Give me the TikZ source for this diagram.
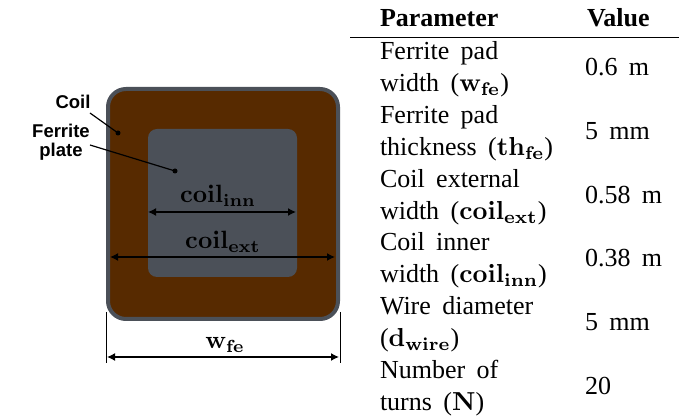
\documentclass[tikz,border=0pt]{standalone}
\usepackage[no-math]{fontspec}
\usepackage{graphicx}
\setmainfont{Liberation Serif}
\newfontfamily\lblfont{Liberation Sans}
\usetikzlibrary{arrows.meta}
\definecolor{rimgray}{HTML}{4B5058}
\definecolor{coilbrown}{HTML}{572A00}
\newcommand{\tabtxt}[1]{\scalebox{2.6}{\spaceskip=4.4pt #1}}
\newcommand{\figmath}[1]{\scalebox{2.5}{$#1$}}
\tikzset{
  x=1pt,y=-1pt,
  txt/.style={anchor=base west,inner sep=0pt,outer sep=0pt},
  lbl/.style={inner sep=0pt,outer sep=0pt,align=center,font=\lblfont\bfseries\fontsize{18.5}{19}\selectfont},
  dim/.style={line width=1.4pt,{Latex[length=8pt,width=8pt]}-{Latex[length=8pt,width=8pt]}},
  lead/.style={line width=1.2pt},
  mathlbl/.style={anchor=base,inner sep=0pt,outer sep=0pt}
}
\begin{document}
\begin{tikzpicture}
\useasboundingbox (0,0) rectangle (691,419);
% table
\coordinate (rulel) at (350,37);
\coordinate (ruler) at (679,37);
\draw[line width=0.9pt] (rulel) -- (ruler);
\node[txt] (hp) at (380,27) {\tabtxt{\textbf{Parameter}}};
\node[txt] (hv) at (587,27) {\tabtxt{\textbf{Value}}};
\node[txt] (a1) at (380,60) {\tabtxt{Ferrite pad}};
\node[txt] (a2) at (380,92) {\tabtxt{width ($\mathbf{w_{fe}}$)}};
\node[txt] (b1) at (380,124) {\tabtxt{Ferrite pad}};
\node[txt] (b2) at (380,156) {\tabtxt{thickness ($\mathbf{th_{fe}}$)}};
\node[txt] (c1) at (380,188) {\tabtxt{Coil external}};
\node[txt] (c2) at (380,220) {\tabtxt{width ($\mathbf{coil_{ext}}$)}};
\node[txt] (d1) at (380,251) {\tabtxt{Coil inner}};
\node[txt] (d2) at (380,283) {\tabtxt{width ($\mathbf{coil_{inn}}$)}};
\node[txt] (e1) at (380,315) {\tabtxt{Wire diameter}};
\node[txt] (e2) at (380,347) {\tabtxt{($\mathbf{d_{wire}}$)}};
\node[txt] (f1) at (380,379) {\tabtxt{Number of}};
\node[txt] (f2) at (380,411) {\tabtxt{turns ($\mathbf{N}$)}};
\node[txt] (v1) at (585,76) {\tabtxt{0.6 m}};
\node[txt] (v2) at (585,140) {\tabtxt{5 mm}};
\node[txt] (v3) at (585,204) {\tabtxt{0.58 m}};
\node[txt] (v4) at (585,267) {\tabtxt{0.38 m}};
\node[txt] (v5) at (585,331) {\tabtxt{5 mm}};
\node[txt] (v6) at (585,395) {\tabtxt{20}};
% figure
\filldraw[fill=coilbrown,draw=rimgray,line width=4pt,rounded corners=18pt] (108,89) rectangle (338,319);
\fill[rimgray,rounded corners=9pt] (148,129) rectangle (297,277);
\coordinate (iL) at (148,212);
\coordinate (iR) at (296,212);
\coordinate (eL) at (110,257);
\coordinate (eR) at (335,257);
\draw[dim] (iL) -- (iR);
\draw[dim] (eL) -- (eR);
\node[mathlbl] (linn) at (218,203) {\figmath{\mathbf{coil_{inn}}}};
\node[mathlbl] (lext) at (223,249) {\figmath{\mathbf{coil_{ext}}}};
\coordinate (t1) at (106,312);
\coordinate (b1x) at (106,363);
\coordinate (t2) at (340,312);
\coordinate (b2x) at (340,363);
\draw[line width=1pt] (t1) -- (b1x);
\draw[line width=1pt] (t2) -- (b2x);
\coordinate (wL) at (107,357);
\coordinate (wR) at (339,357);
\draw[dim] (wL) -- (wR);
\node[mathlbl] (lw) at (225,349) {\figmath{\mathbf{w_{fe}}}};
\node[lbl] (coil) at (73,102) {Coil};
\node[lbl] (ferr) at (61,142) {Ferrite\\plate};
\coordinate (cs) at (90,113);
\coordinate (cd) at (118,133);
\coordinate (fs) at (90,145);
\coordinate (fd) at (175,171);
\draw[lead] (cs) -- (cd);
\draw[lead] (fs) -- (fd);
\fill (cd) circle (2.5pt);
\fill (fd) circle (2.5pt);
\end{tikzpicture}
\end{document}
